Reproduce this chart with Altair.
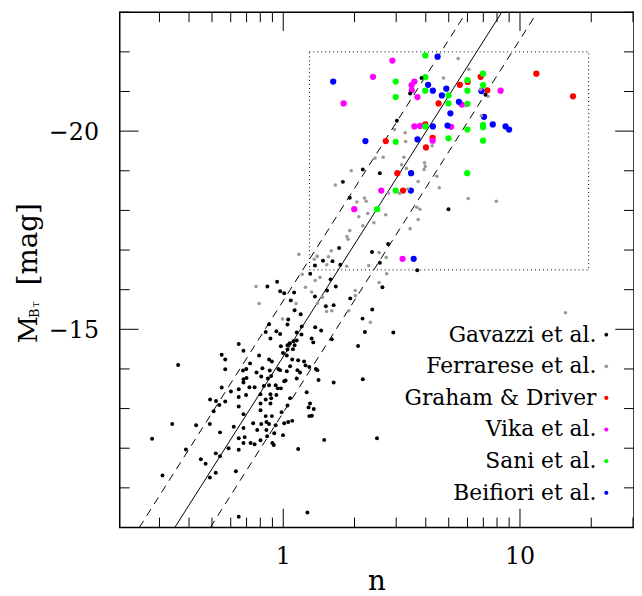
import altair as alt
import numpy as np
import pandas as pd

# ---------------- data (log10 n, M_BT) ----------------
gav_logn = [0.584, 0.536, 0.480, 0.854, 0.336, 0.408, 0.252, 0.281, 0.698, 0.236,
            0.375, 0.443, 0.408, 0.168, 0.208, 0.241, 0.134, 0.114, 0.200, 0.566,
            0.222, 0.185, 0.134, 0.419, 0.283, -0.067, -0.026, -0.013, 0.004, 0.046,
            0.032, 0.180, 0.213, 0.376, 0.335, 0.345, 0.048, 0.074, 0.021, 0.018,
            -0.060, -0.074, -0.029, -0.013, -0.054, 0.057, 0.078, 0.135, 0.160, 0.077,
            0.120, 0.127, 0.205, 0.043, 0.057, 0.027, 0.018, 0.048, 0.041, -0.010,
            0.018, -0.001, -0.102, -0.060, -0.048, -0.140, 0.015, 0.038, 0.063, 0.088,
            0.094, 0.110, 0.138, 0.144, 0.149, 0.213, 0.336, 0.029, 0.060, 0.071,
            0.057, 0.015, 0.010, -0.021, -0.013, -0.057, -0.088, -0.113, -0.093, -0.065,
            -0.051, -0.032, -0.060, -0.082, -0.023, -0.010, 0.004, -0.121, -0.143, -0.096,
            -0.054, -0.029, -0.074, -0.051, -0.054, -0.096, -0.096, 0.029, 0.018, 0.099,
            0.107, 0.129, 0.110, -0.007, -0.074, -0.048, 0.121, 0.113, 0.465, 0.316,
            0.396, 0.173, 0.102, -0.127, -0.093, -0.071, -0.060, -0.032, -0.110, -0.071,
            -0.038, -0.068, -0.096, -0.138, -0.121, -0.046, -0.040, -0.001, 0.004, 0.021,
            0.038, 0.063, -0.444, -0.260, -0.245, -0.245, -0.188, -0.168, -0.170, -0.156,
            -0.168, -0.168, -0.155, -0.260, -0.221, -0.188, -0.157, -0.188, -0.245, -0.309,
            -0.284, -0.270, -0.294, -0.188, -0.168, -0.469, -0.554, -0.368, -0.310, -0.267,
            -0.209, -0.168, -0.188, -0.163, -0.168, -0.231, -0.188, -0.411, -0.285, -0.267,
            -0.348, -0.328, -0.510, -0.310, -0.285, -0.200, -0.188]
gav_M = [-21.34, -20.95, -20.26, -20.92, -19.03, -18.94, -18.72, -18.32, -18.03, -17.05,
         -16.95, -17.15, -16.68, -16.73, -16.72, -16.63, -16.61, -16.40, -16.26, -16.49,
         -16.08, -15.98, -15.83, -16.06, -15.78, -16.08, -16.20, -15.96, -15.91, -15.93,
         -15.73, -15.58, -15.61, -15.50, -15.27, -14.93, -15.48, -15.38, -15.25, -15.12,
         -15.13, -14.93, -14.95, -14.88, -14.77, -14.92, -15.07, -15.05, -14.97, -14.87,
         -14.77, -14.67, -14.75, -14.70, -14.72, -14.65, -14.60, -14.60, -14.50, -14.57,
         -14.49, -14.40, -14.34, -14.24, -14.19, -14.14, -14.34, -14.24, -14.22, -14.19,
         -14.09, -14.05, -14.00, -13.97, -13.72, -13.66, -13.74, -14.07, -13.97, -13.91,
         -13.76, -13.94, -13.71, -14.00, -13.97, -13.96, -14.02, -13.91, -13.81, -13.76,
         -13.82, -13.59, -13.59, -13.57, -13.51, -13.51, -13.69, -13.54, -13.54, -13.36,
         -13.36, -13.34, -13.23, -13.26, -13.13, -13.13, -12.96, -13.26, -13.08, -13.41,
         -13.03, -12.99, -12.81, -12.91, -12.81, -12.81, -12.82, -13.13, -14.92, -14.58,
         -12.25, -12.21, -10.38, -12.63, -12.61, -12.66, -12.61, -12.58, -12.46, -12.46,
         -12.38, -12.30, -12.20, -12.13, -12.10, -12.13, -12.08, -12.33, -12.63, -12.66,
         -12.69, -11.98, -14.10, -14.36, -14.24, -13.99, -14.63, -14.46, -13.96, -14.00,
         -13.74, -13.66, -13.77, -13.53, -13.43, -13.49, -13.34, -13.29, -13.18, -13.23,
         -13.19, -13.09, -12.93, -13.05, -12.86, -12.61, -12.24, -12.58, -12.61, -12.40,
         -12.54, -12.51, -12.25, -12.28, -12.13, -12.00, -11.96, -11.97, -11.87, -11.80,
         -11.72, -11.61, -11.31, -11.26, -11.38, -11.42, -10.27]

fer_logn = [0.739, 0.677, 0.784, 0.865, 0.770, 0.837, 0.834, 0.470, 0.515, 0.517,
            0.629, 0.422, 0.388, 0.510, 0.500, 0.520, 0.597, 0.600, 0.595, 0.649,
            0.570, 0.659, 0.287, 0.220, 0.311, 0.343, 0.350, 0.319, 0.357, 0.383,
            0.433, 0.336, 0.281, 0.269, 0.274, 0.492, 0.444, 0.526, 0.564, 0.577,
            0.570, 0.536, 0.781, 0.900, 0.405, 0.435, 0.361, 0.268, 0.203, 0.191,
            0.143, 0.131, 0.066, 0.184, 0.135, 0.155, 0.080, 0.094, 0.120, 0.166,
            0.437, 0.405, 0.304, 0.305, -0.115, -0.102, 0.054, 0.144, -0.003, 0.183,
            0.205, 0.277, 0.368, 1.192]
fer_M = [-21.83, -21.34, -21.56, -20.88, -20.64, -20.39, -21.05, -20.04, -19.96, -19.74,
         -19.63, -19.34, -19.32, -19.34, -19.15, -19.06, -19.20, -19.11, -19.03, -18.86,
         -18.73, -18.57, -19.00, -18.64, -18.21, -18.31, -18.23, -17.84, -17.92, -17.69,
         -17.89, -17.61, -17.49, -17.34, -17.27, -18.43, -18.44, -18.54, -18.08, -18.03,
         -17.77, -17.54, -18.30, -18.23, -16.94, -16.81, -16.61, -16.59, -16.98, -16.83,
         -16.84, -16.77, -16.89, -16.63, -16.23, -16.31, -16.39, -16.06, -15.94, -15.81,
         -16.40, -16.18, -15.98, -15.85, -16.08, -15.65, -15.65, -15.65, -15.26, -15.45,
         -15.47, -15.47, -15.18, -15.42]

gra_logn = [1.069, 1.224, 0.834, 0.746, 0.779, 0.862, 0.656, 0.600, 0.631, 0.603,
            0.433, 0.482, 0.506]
gra_M = [-21.45, -20.88, -21.37, -21.17, -21.24, -21.03, -20.70, -20.17, -19.83, -19.59,
         -19.75, -18.94, -18.50]

vik_logn = [0.461, 0.379, 0.255, 0.554, 0.542, 0.543, 0.567, 0.754, 0.918, 0.554,
            0.578, 0.709, 0.631, 0.414, 0.300, 0.504]
vik_M = [-21.78, -21.37, -20.70, -21.25, -21.16, -21.03, -20.86, -20.67, -21.02, -20.12,
         -20.13, -20.11, -19.76, -18.50, -18.03, -16.78]

san_logn = [0.600, 0.475, 0.475, 0.600, 0.600, 0.698, 0.698, 0.778, 0.778, 0.778,
            0.844, 0.844, 0.600, 0.475, 0.698, 0.778, 0.844, 0.844, 0.844, 0.777,
            0.475, 0.396]
san_M = [-21.91, -21.25, -20.86, -21.36, -21.02, -20.90, -20.70, -21.29, -21.02, -20.69,
         -21.45, -21.16, -20.12, -19.73, -19.82, -20.04, -20.16, -20.10, -19.76, -18.94,
         -18.50, -18.03]

bei_logn = [0.652, 0.211, 0.612, 0.632, 0.689, 0.670, 0.742, 0.706, 0.837, 0.848,
            0.885, 0.939, 0.954, 0.632, 0.694, 0.567, 0.347, 0.540, 0.539, 0.551]
bei_M = [-21.88, -21.25, -21.17, -21.02, -21.07, -20.90, -20.74, -20.45, -21.01, -20.36,
         -20.17, -20.12, -20.04, -20.12, -20.14, -19.79, -19.75, -18.94, -18.50, -16.78]

# relation (solid) and its +-0.15 dex band (dashed), end points at the frame
fit_logn = [-0.458, 0.923]
fit_M = [-10.0, -23.0]
band_dex = 0.15

# dotted selection box
box_n = [1.29, 19.5]
box_M = [-22.0, -16.5]

labels = ["Gavazzi et al.", "Ferrarese et al.", "Graham & Driver",
          "Vika et al.", "Sani et al.", "Beifiori et al."]
colors = ["#000000", "#999999", "#ff0000", "#ff00ff", "#00ff00", "#0000ff"]

x_major = [1, 10]
x_major_text = ["1", "10"]
x_minor = [0.3, 0.4, 0.5, 0.6, 0.7, 0.8, 0.9, 2, 3, 4, 5, 6, 7, 8, 9, 20, 30]
y_major = [-20, -15]
y_major_text = ["\u221220", "\u221215"]
y_minor = [-23, -22, -21, -19, -18, -17, -16, -14, -13, -12, -11]

# ---------------- chart ----------------
W, H = 520, 521
FONT = "DejaVu Serif"
xsc = alt.Scale(type="log", domain=[0.2039, 30.31], nice=False)
ysc = alt.Scale(domain=[-10, -23], nice=False, zero=False)


def sample(logn, M):
    return pd.DataFrame({"n": np.power(10.0, np.array(logn)), "M": M})


def points(df, color, size):
    return alt.Chart(df).mark_circle(color=color, size=size, opacity=1).encode(
        x=alt.X("n:Q", scale=xsc, axis=None),
        y=alt.Y("M:Q", scale=ysc, axis=None),
    )


one = pd.DataFrame({"a": [0]})

frame = alt.Chart(one).mark_rect(fillOpacity=0, stroke="black", strokeWidth=1.5).encode(
    x=alt.value(0), x2=alt.value(W), y=alt.value(0), y2=alt.value(H))

box_df = pd.DataFrame({"n1": [box_n[0]], "n2": [box_n[1]], "M1": [box_M[0]], "M2": [box_M[1]]})
box = alt.Chart(box_df).mark_rect(fillOpacity=0, stroke="black", strokeWidth=1,
                                  strokeDash=[1, 3]).encode(
    x=alt.X("n1:Q", scale=xsc, axis=None), x2="n2:Q",
    y=alt.Y("M1:Q", scale=ysc, axis=None), y2="M2:Q")

fl = np.array(fit_logn)
solid_df = pd.DataFrame({"n": 10 ** fl, "M": fit_M})
dash_df = pd.DataFrame({
    "n": np.concatenate([10 ** (fl - band_dex), 10 ** (fl + band_dex)]),
    "M": fit_M * 2,
    "side": ["lo", "lo", "hi", "hi"],
})
solid = alt.Chart(solid_df).mark_line(color="black", strokeWidth=1, clip=True).encode(
    x=alt.X("n:Q", scale=xsc, axis=None), y=alt.Y("M:Q", scale=ysc, axis=None))
dashed = alt.Chart(dash_df).mark_line(color="black", strokeWidth=1, strokeDash=[8, 6],
                                      clip=True).encode(
    x=alt.X("n:Q", scale=xsc, axis=None), y=alt.Y("M:Q", scale=ysc, axis=None),
    detail="side:N")


def xticks(vals, L, top):
    y0, y1 = (0, L) if top else (H, H - L)
    return alt.Chart(pd.DataFrame({"n": vals})).mark_rule(color="black", strokeWidth=1).encode(
        x=alt.X("n:Q", scale=xsc, axis=None), y=alt.value(y0), y2=alt.value(y1))


def yticks(vals, L, right):
    x0, x1 = (W, W - L) if right else (0, L)
    return alt.Chart(pd.DataFrame({"M": vals})).mark_rule(color="black", strokeWidth=1).encode(
        y=alt.Y("M:Q", scale=ysc, axis=None), x=alt.value(x0), x2=alt.value(x1))


ticks = [xticks(x_major, 19, False), xticks(x_minor, 10, False),
         xticks(x_major, 19, True), xticks(x_minor, 10, True),
         yticks(y_major, 19, False), yticks(y_minor, 10, False),
         yticks(y_major, 19, True), yticks(y_minor, 10, True)]

# tick labels
xlab = alt.Chart(pd.DataFrame({"n": x_major, "t": x_major_text})).mark_text(
    align="center", baseline="alphabetic", font=FONT, fontSize=24, color="black").encode(
    x=alt.X("n:Q", scale=xsc, axis=None), y=alt.value(558), text="t:N")
ylab = alt.Chart(pd.DataFrame({"M": y_major, "t": y_major_text})).mark_text(
    align="right", baseline="alphabetic", dy=8.7, font=FONT, fontSize=24,
    color="black").encode(
    y=alt.Y("M:Q", scale=ysc, axis=None), x=alt.value(-21), text="t:N")

# legend (right-aligned labels with a dot on their right)
legend = []
for i, (lab, col) in enumerate(zip(labels, colors)):
    yy = 326 + 32 * i
    legend.append(alt.Chart(one).mark_text(text=lab, align="right", baseline="middle",
                                           font=FONT, fontSize=22, color="black").encode(
        x=alt.value(482), y=alt.value(yy)))
    legend.append(alt.Chart(one).mark_circle(color=col, size=14 if i < 2 else 18,
                                             opacity=1).encode(
        x=alt.value(492), y=alt.value(yy)))

# axis titles
titles = [
    alt.Chart(one).mark_text(text="n", align="center", baseline="alphabetic", font=FONT,
                             fontSize=28, color="black").encode(
        x=alt.value(W / 2), y=alt.value(584)),
    alt.Chart(one).mark_text(text="M", align="center", baseline="alphabetic", angle=270,
                             font=FONT, fontSize=27, color="black").encode(
        x=alt.value(-84), y=alt.value(321)),
    alt.Chart(one).mark_text(text="B", align="center", baseline="alphabetic", angle=270,
                             font=FONT, fontSize=13, color="black").encode(
        x=alt.value(-82), y=alt.value(304.5)),
    alt.Chart(one).mark_text(text="T", align="center", baseline="alphabetic", angle=270,
                             font=FONT, fontSize=8, color="black").encode(
        x=alt.value(-82), y=alt.value(295.5)),
    alt.Chart(one).mark_text(text="[mag]", align="center", baseline="alphabetic", angle=270,
                             font=FONT, fontSize=28, color="black").encode(
        x=alt.value(-84), y=alt.value(234.5)),
]

layers = [frame, box, solid, dashed,
          points(sample(gra_logn, gra_M), "#ff0000", 40),
          points(sample(vik_logn, vik_M), "#ff00ff", 40),
          points(sample(san_logn, san_M), "#00ff00", 40),
          points(sample(bei_logn, bei_M), "#0000ff", 40),
          points(sample(fer_logn, fer_M), "#999999", 13),
          points(sample(gav_logn, gav_M), "#000000", 16)] + ticks + [xlab, ylab] + legend + titles

chart = alt.layer(*layers).properties(
    width=W, height=H,
    padding={"left": 113, "top": 1, "right": 0, "bottom": 66},
    autosize=alt.AutoSizeParams(type="none"),
    background="white",
).configure_view(stroke=None)

chart.save("out.html", embed_options={"renderer": "svg", "actions": False})
